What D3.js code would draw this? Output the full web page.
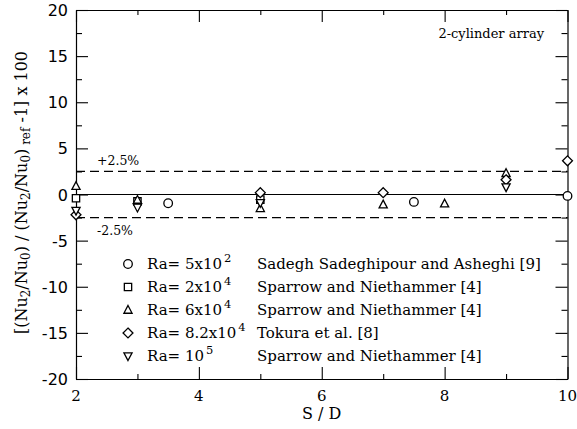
<!DOCTYPE html>
<html>
<head>
<meta charset="utf-8">
<script src="https://cdn.jsdelivr.net/npm/d3@7"></script>
<style>
  html, body { margin: 0; padding: 0; background: #fff; }
  svg { display: block; }
  text { fill: #000; }
</style>
</head>
<body>
<svg id="chart" width="577" height="429"></svg>
<script>
// Relative deviation of the two-cylinder Nusselt ratio, by spacing S/D
const xTicks = [2, 4, 6, 8, 10];
const yTicks = [-20, -15, -10, -5, 0, 5, 10, 15, 20];
const bandLimits = [2.5, -2.5];

const sdCircle = [3.5, 7.5, 10];
const valCircle = [-0.95, -0.8, -0.15];

const sdSquare = [2, 3, 5];
const valSquare = [-0.4, -0.75, -0.55];

const sdTriUp = [2, 3, 5, 7, 8, 9];
const valTriUp = [0.9, -0.6, -1.5, -1.1, -1.0, 2.3];

const sdDiamond = [2, 5, 7, 9, 10];
const valDiamond = [-2.2, 0.2, 0.2, 1.6, 3.65];

const sdTriDown = [2, 3, 5, 9];
const valTriDown = [-1.75, -1.4, -0.9, 0.8];

const legendRa = ["5x10|2", "2x10|4", "6x10|4", "8.2x10|4", "10|5"];
const legendSource = [
  "Sadegh Sadeghipour and Asheghi [9]",
  "Sparrow and Niethammer [4]",
  "Sparrow and Niethammer [4]",
  "Tokura et al. [8]",
  "Sparrow and Niethammer [4]"
];

const series = [
  { sd: sdCircle, val: valCircle, shape: "circle" },
  { sd: sdSquare, val: valSquare, shape: "square" },
  { sd: sdTriUp, val: valTriUp, shape: "triUp" },
  { sd: sdDiamond, val: valDiamond, shape: "diamond" },
  { sd: sdTriDown, val: valTriDown, shape: "triDown" }
];

const serif = "DejaVu Serif";
const sans = "DejaVu Sans";

const svg = d3.select("#chart");
const plotLeft = 76, plotRight = 567.5, plotTop = 10, plotBottom = 379;

const x = d3.scaleLinear().domain([2, 10]).range([plotLeft, plotRight]);
const y = d3.scaleLinear().domain([-20, 20]).range([plotBottom, plotTop]);

// marker path for each shape, centred on 0,0
function markerPath(shape) {
  const s = 4.3;
  switch (shape) {
    case "square": return `M${-s * 0.85},${-s * 0.85}H${s * 0.85}V${s * 0.85}H${-s * 0.85}Z`;
    case "triUp": return `M0,${-s * 1.05}L${s * 0.95},${s * 0.75}L${-s * 0.95},${s * 0.75}Z`;
    case "triDown": return `M0,${s * 1.05}L${s * 0.95},${-s * 0.75}L${-s * 0.95},${-s * 0.75}Z`;
    case "diamond": return `M0,${-s * 1.15}L${s * 1.15},0L0,${s * 1.15}L${-s * 1.15},0Z`;
  }
  return null;
}
function drawMarker(g, shape, cx, cy) {
  if (shape === "circle") {
    g.append("circle").attr("cx", cx).attr("cy", cy).attr("r", 4.3)
      .attr("fill", "#fff").attr("stroke", "#000").attr("stroke-width", 1.3);
  } else {
    g.append("path").attr("d", markerPath(shape))
      .attr("transform", `translate(${cx},${cy})`)
      .attr("fill", "#fff").attr("stroke", "#000").attr("stroke-width", 1.3);
  }
}

// reference lines
svg.append("line").attr("x1", plotLeft).attr("x2", plotRight)
  .attr("y1", y(0)).attr("y2", y(0))
  .attr("stroke", "#000").attr("stroke-width", 1.1);
bandLimits.forEach(v => {
  svg.append("line").attr("x1", plotLeft).attr("x2", plotRight)
    .attr("y1", y(v)).attr("y2", y(v))
    .attr("stroke", "#000").attr("stroke-width", 1.2)
    .attr("stroke-dasharray", "9,5");
});
svg.append("text").attr("x", 97).attr("y", y(2.5) - 6)
  .attr("font-family", serif).attr("font-size", 12.5).text("+2.5%");
svg.append("text").attr("x", 97).attr("y", y(-2.5) + 17)
  .attr("font-family", serif).attr("font-size", 12.5).text("-2.5%");

// axes with inward ticks on all four sides
const xMinor = d3.range(2, 10.01, 1);
const yMinor = d3.range(-20, 20.01, 2.5);
const gB = svg.append("g").attr("transform", `translate(0,${plotBottom})`)
  .call(d3.axisBottom(x).tickValues(xMinor).tickSizeOuter(0).tickFormat(""));
const gT = svg.append("g").attr("transform", `translate(0,${plotTop})`)
  .call(d3.axisTop(x).tickValues(xMinor).tickSizeOuter(0).tickFormat(""));
const gL = svg.append("g").attr("transform", `translate(${plotLeft},0)`)
  .call(d3.axisLeft(y).tickValues(yMinor).tickSizeOuter(0).tickFormat(""));
const gR = svg.append("g").attr("transform", `translate(${plotRight},0)`)
  .call(d3.axisRight(y).tickValues(yMinor).tickSizeOuter(0).tickFormat(""));

// major ticks are longer, all point into the plot
gB.selectAll(".tick line").attr("y2", d => Number.isInteger(d / 2) ? -12 : -5);
gT.selectAll(".tick line").attr("y2", d => Number.isInteger(d / 2) ? 12 : 5);
gL.selectAll(".tick line").attr("x2", d => Number.isInteger(d / 5) ? 12 : 6);
gR.selectAll(".tick line").attr("x2", d => Number.isInteger(d / 5) ? -12 : -6);
[gB, gT, gL, gR].forEach(g => {
  g.selectAll(".domain").attr("stroke", "#000").attr("stroke-width", 1.2);
  g.selectAll(".tick line").attr("stroke", "#000").attr("stroke-width", 1.1);
});

// tick labels
svg.append("g").selectAll("text").data(xTicks).join("text")
  .attr("x", d => x(d)).attr("y", plotBottom + 22)
  .attr("text-anchor", "middle").attr("font-family", serif).attr("font-size", 15)
  .text(d => d);
svg.append("g").selectAll("text").data(yTicks).join("text")
  .attr("x", plotLeft - 8).attr("y", d => y(d) + 6)
  .attr("text-anchor", "end").attr("font-family", sans).attr("font-size", 16)
  .text(d => d);

// axis titles
svg.append("text").attr("x", x(6)).attr("y", 419)
  .attr("text-anchor", "middle").attr("font-family", serif).attr("font-size", 16)
  .text("S / D");

const yt = svg.append("text")
  .attr("transform", `translate(27,${y(0) - 2}) rotate(-90)`)
  .attr("text-anchor", "middle").attr("font-family", serif).attr("font-size", 16);
[
  ["[(Nu", 0], ["2", 1], ["/Nu", 0], ["0", 1], [") / (Nu", 0], ["2", 1],
  ["/Nu", 0], ["0", 1], [")", 0], [" ref", 1], [" -1] x 100", 0]
].forEach(([t, sub]) => {
  yt.append("tspan").text(t)
    .attr("font-size", sub ? 12 : 16)
    .attr("baseline-shift", sub ? "-3" : null);
});

svg.append("text").attr("x", 544).attr("y", 38).attr("text-anchor", "end")
  .attr("font-family", serif).attr("font-size", 13).text("2-cylinder array");

// data markers
const gData = svg.append("g");
series.forEach(s => {
  s.sd.forEach((d, i) => drawMarker(gData, s.shape, x(d), y(s.val[i])));
});

// legend
const gLeg = svg.append("g");
legendRa.forEach((lab, i) => {
  const cy = 264 + i * 23;
  drawMarker(gLeg, series[i].shape, 128, cy);
  const [base, sup] = lab.split("|");
  const t = gLeg.append("text").attr("x", 147).attr("y", cy + 5)
    .attr("font-family", serif).attr("font-size", 15);
  t.append("tspan").text("Ra= " + base);
  t.append("tspan").text(sup).attr("font-size", 11.5).attr("baseline-shift", "7").attr("dx", 2);
  gLeg.append("text").attr("x", 257).attr("y", cy + 5)
    .attr("font-family", serif).attr("font-size", 15).text(legendSource[i]);
});
</script>
</body>
</html>
